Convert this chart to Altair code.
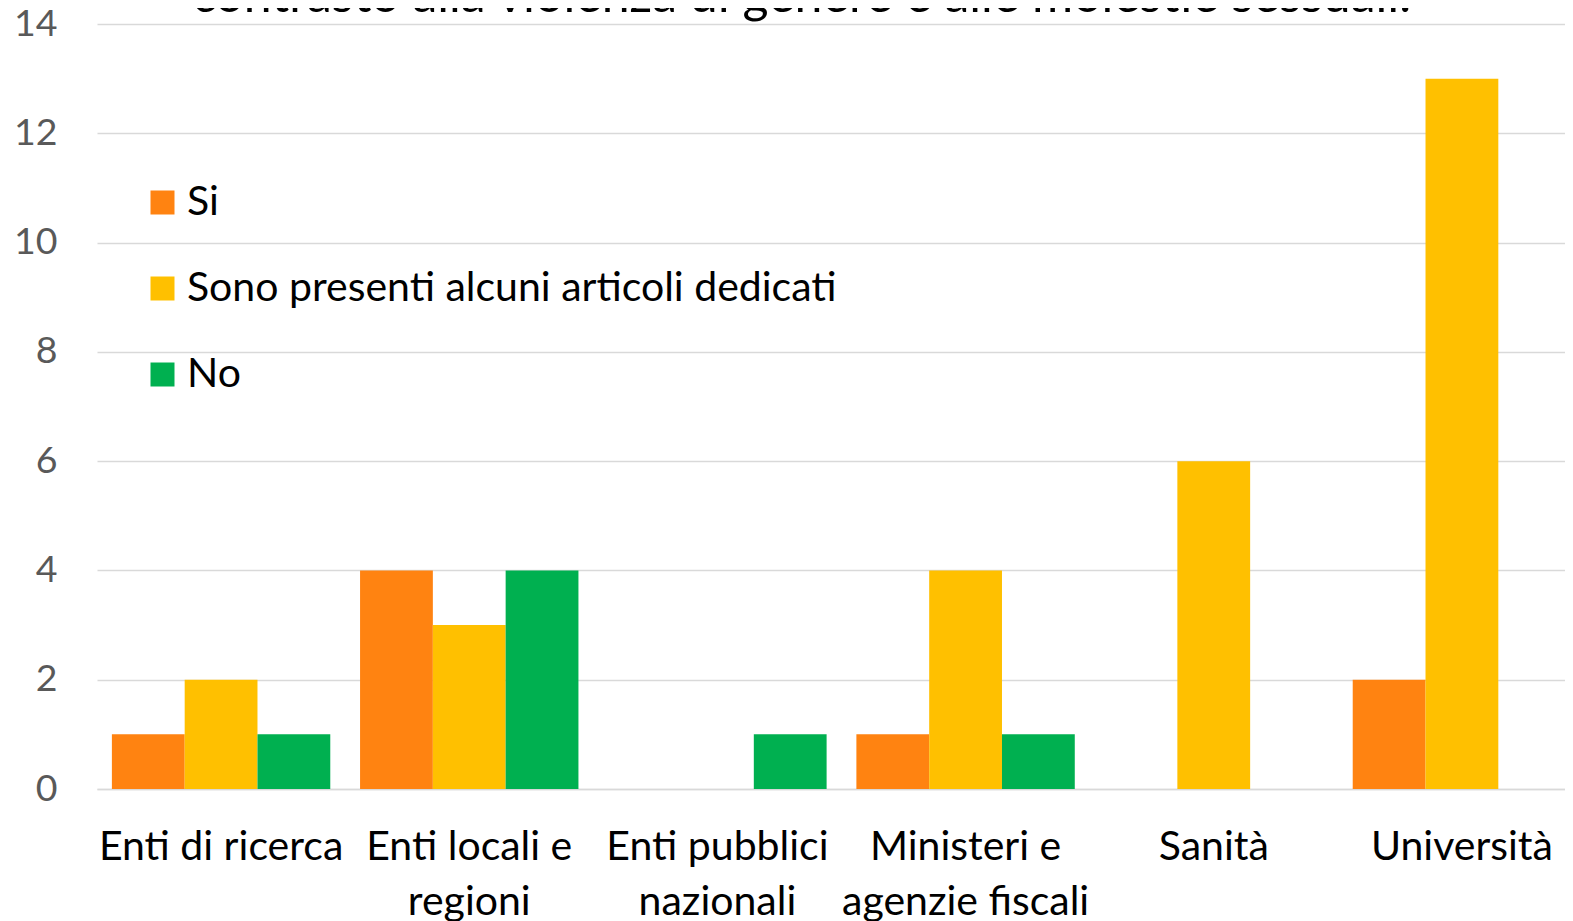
import altair as alt
import pandas as pd

categories = ["Enti di ricerca", "Enti locali e\nregioni", "Enti pubblici\nnazionali",
              "Ministeri e\nagenzie fiscali", "Sanità", "Università"]
series = ["Si", "Sono presenti alcuni articoli dedicati", "No"]
si = [1, 4, 0, 1, 0, 2]
sono = [2, 3, 0, 4, 6, 13]
no = [1, 4, 1, 1, 0, 0]
colors = ["#FF8311", "#FFC000", "#00B050"]
y_ticks = [0, 2, 4, 6, 8, 10, 12, 14]

rows = []
for s, vals in zip(series, [si, sono, no]):
    for c, v in zip(categories, vals):
        rows.append({"cat": c, "serie": s, "val": v})
df = pd.DataFrame(rows)

FONT = "Lato"

chart = alt.Chart(df).mark_bar().encode(
    x=alt.X("cat:N", sort=categories,
            scale=alt.Scale(paddingInner=0.12, paddingOuter=0.06),
            axis=alt.Axis(title=None, labelAngle=0, labelFont=FONT, labelFontSize=41,
                          labelColor="#000000", labelPadding=58, labelLineHeight=55,
                          labelExpr="split(datum.label, '\\n')", ticks=False,
                          labelLimit=0,
                          domain=True, domainColor="#d9d9d9", domainWidth=1.5,
                          labelBaseline="middle")),
    xOffset=alt.XOffset("serie:N", sort=series, scale=alt.Scale(paddingInner=0, paddingOuter=0)),
    y=alt.Y("val:Q", scale=alt.Scale(domain=[0, 14], nice=False),
            axis=alt.Axis(title=None, values=y_ticks, labelFont=FONT, labelFontSize=37.5,
                          labelColor="#595959", labelPadding=40, ticks=False, domain=False,
                          gridColor="#d9d9d9", gridWidth=1.5)),
    color=alt.Color("serie:N", sort=series,
                    scale=alt.Scale(domain=series, range=colors),
                    legend=alt.Legend(title=None, orient="none", legendX=45, legendY=158,
                                      direction="vertical", symbolType="square",
                                      symbolSize=576, symbolStrokeWidth=0,
                                      labelFont=FONT, labelFontSize=41, labelColor="#000000",
                                      labelOffset=4, rowPadding=44, padding=0,
                                      labelLimit=0)),
).properties(
    width=1489, height=765,
    title=alt.TitleParams("contrasto alla violenza di genere e alle molestie sessuali.",
                          font=FONT, fontSize=50, fontWeight="normal", color="#000000",
                          anchor="middle", frame="group", baseline="alphabetic",
                          offset=0, dy=57, dx=-40),
    autosize=alt.AutoSizeParams(type="none"),
    padding={"left": 89, "top": 16, "right": -21, "bottom": 140},
).configure_view(stroke=None)

chart.save("out.html", embed_options={"renderer": "svg", "actions": False})
